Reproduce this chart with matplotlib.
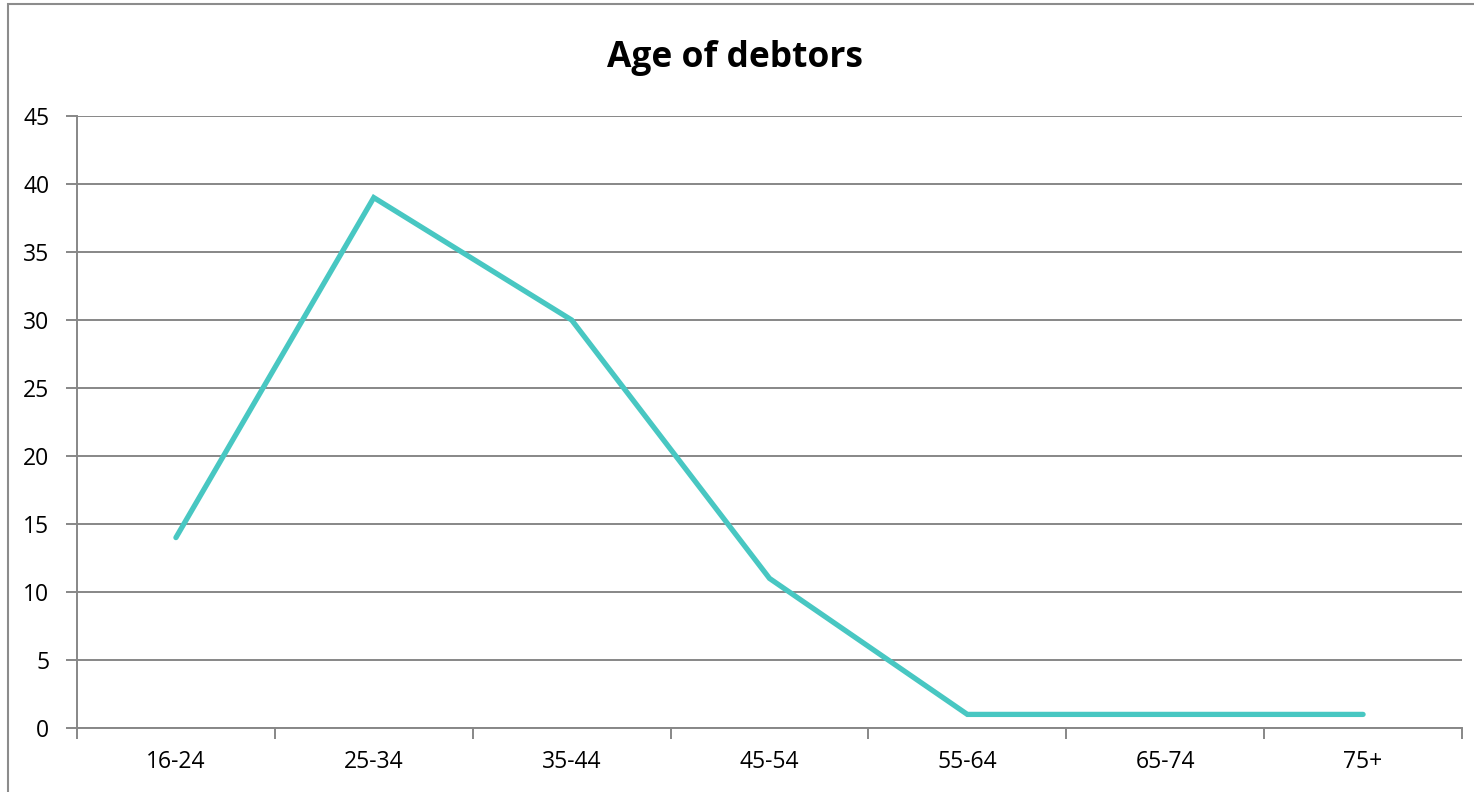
import matplotlib
matplotlib.use("Agg")
import matplotlib.pyplot as plt
import numpy as np
from matplotlib.patches import Rectangle

# age groups and number of debtors in each
age_groups = ["16-24", "25-34", "35-44", "45-54", "55-64", "65-74", "75+"]
debtors = [14, 39, 30, 11, 1, 1, 1]
y_ticks = [0, 5, 10, 15, 20, 25, 30, 35, 40, 45]

plt.rcParams['font.family'] = ['Open Sans', 'DejaVu Sans']

fig = plt.figure(figsize=(14.74, 7.92), dpi=100)
ax = fig.add_axes([77/1474, 1 - 728/792, (1462 - 77)/1474, (728 - 116)/792])

x = np.arange(len(age_groups))
ax.plot(x, debtors, color="#48c7c2", lw=3.8, solid_capstyle="round",
        solid_joinstyle="miter")

ax.set_xlim(-0.5, len(age_groups) - 0.5)
ax.set_ylim(0, 45)
ax.set_yticks(y_ticks)
ax.set_yticklabels([str(v) for v in y_ticks], fontsize=16.5)
ax.set_xticks(x)
ax.set_xticklabels(age_groups, fontsize=16.5)
ax.set_xticks(np.arange(len(age_groups) + 1) - 0.5, minor=True)

grid_col = "#878787"
ax.yaxis.grid(True, color=grid_col, lw=1.4)
ax.set_axisbelow(True)
for side in ["top", "right"]:
    ax.spines[side].set_visible(False)
for side in ["left", "bottom"]:
    ax.spines[side].set_color(grid_col)
    ax.spines[side].set_linewidth(1.4)

ax.tick_params(axis="y", length=8, width=1.4, color=grid_col, pad=12)
ax.tick_params(axis="x", which="major", length=0, pad=16)
ax.tick_params(axis="x", which="minor", length=8, width=1.4, color=grid_col)

fig.text(735/1474, 1 - 67/792, "Age of debtors", ha="center", va="baseline",
         fontsize=25.5, fontweight="bold")

# outer chart frame
fig.patches.append(Rectangle((8/1474, -0.1), 1.2, 1 - 4/792 + 0.1,
                             transform=fig.transFigure, fill=False,
                             edgecolor="#8c8c8c", lw=1.5))

fig.savefig("out.png", dpi=100)
